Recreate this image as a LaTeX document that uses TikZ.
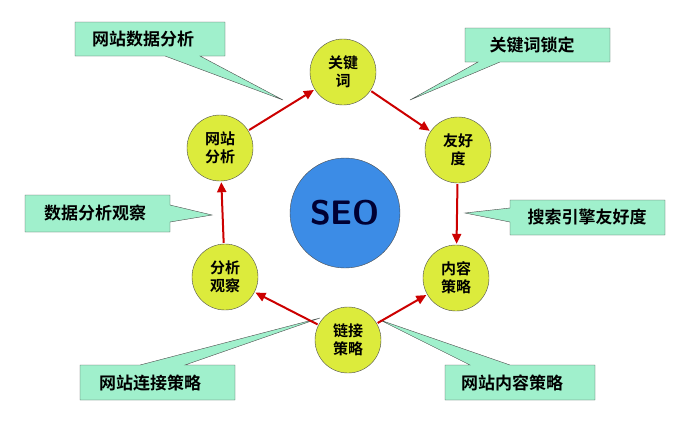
\documentclass[tikz,border=0pt]{standalone}
\usepackage{fontspec}
\newfontfamily\cjk{Noto Sans CJK SC}[BoldFont={Noto Sans CJK SC Bold}]
\usetikzlibrary{arrows.meta}
\definecolor{boxgreen}{HTML}{A0F0CC}
\definecolor{ballgreen}{HTML}{DCEB3C}
\definecolor{seoblue}{HTML}{3C8CE6}
\tikzset{
	ball/.style={circle, draw=black!70, fill=ballgreen, minimum size=66pt, inner sep=0pt, align=center, font=\cjk\bfseries\fontsize{15}{18}\selectfont},
	flow/.style={draw=red!80!black, line width=2pt, -{Triangle[length=10pt,width=9pt]}, shorten >=1pt, shorten <=1pt},
	callout/.style={draw=black!70, fill=boxgreen},
	tag/.style={font=\cjk\bfseries\fontsize{17}{19}\selectfont}
}
\begin{document}
\begin{tikzpicture}[x=1pt,y=-1pt]
		\useasboundingbox (0,0) rectangle (688,429);
		
		% callouts
		\draw[callout] (75,22) -- (225,22) -- (225,56) -- (200,56) -- (283,100) -- (165,56) -- (75,56) -- cycle;
		\node[tag] (t1) at (143,39) {网站数据分析};
		\draw[callout] (465,28) -- (610,28) -- (610,62) -- (500,62) -- (410,100) -- (478,62) -- (465,62) -- cycle;
		\node[tag] (t2) at (532,45) {关键词锁定};
		\draw[callout] (510,200) -- (665,200) -- (665,235) -- (510,235) -- (510,222) -- (465,213) -- (510,208) -- cycle;
		\node[tag] (t3) at (587,217) {搜索引擎友好度};
		\draw[callout] (25,195) -- (170,195) -- (170,205) -- (212,215) -- (170,222) -- (170,232) -- (25,232) -- cycle;
		\node[tag] (t4) at (95,213) {数据分析观察};
		\draw[callout] (80,365) -- (140,365) -- (320,318) -- (185,365) -- (235,365) -- (235,400) -- (80,400) -- cycle;
		\node[tag] (t5) at (150,383) {网站连接策略};
		\draw[callout] (445,365) -- (470,365) -- (380,320) -- (510,365) -- (595,365) -- (595,400) -- (445,400) -- cycle;
		\node[tag] (t6) at (512,383) {网站内容策略};
		
		% centre
		\node[circle, draw=black!70, fill=seoblue, minimum size=110pt, text=blue!20!black, font=\sffamily\bfseries\fontsize{34}{36}\selectfont] (seo) at (345,213) {SEO};
		
		% steps
		\node[ball] (kw) at (343,72) {关键\\词};
		\node[ball] (fr) at (458,150) {友好\\度};
		\node[ball] (nr) at (456,278) {内容\\策略};
		\node[ball] (lj) at (348,340) {链接\\策略};
		\node[ball] (fx) at (225,277) {分析\\观察};
		\node[ball] (wz) at (220,148) {网站\\分析};
		
		\draw[flow] (wz) -- (kw);
		\draw[flow] (kw) -- (fr);
		\draw[flow] (fr) -- (nr);
		\draw[flow] (lj) -- (nr);
		\draw[flow] (lj) -- (fx);
		\draw[flow] (fx) -- (wz);
		
	\end{tikzpicture}
\end{document}
